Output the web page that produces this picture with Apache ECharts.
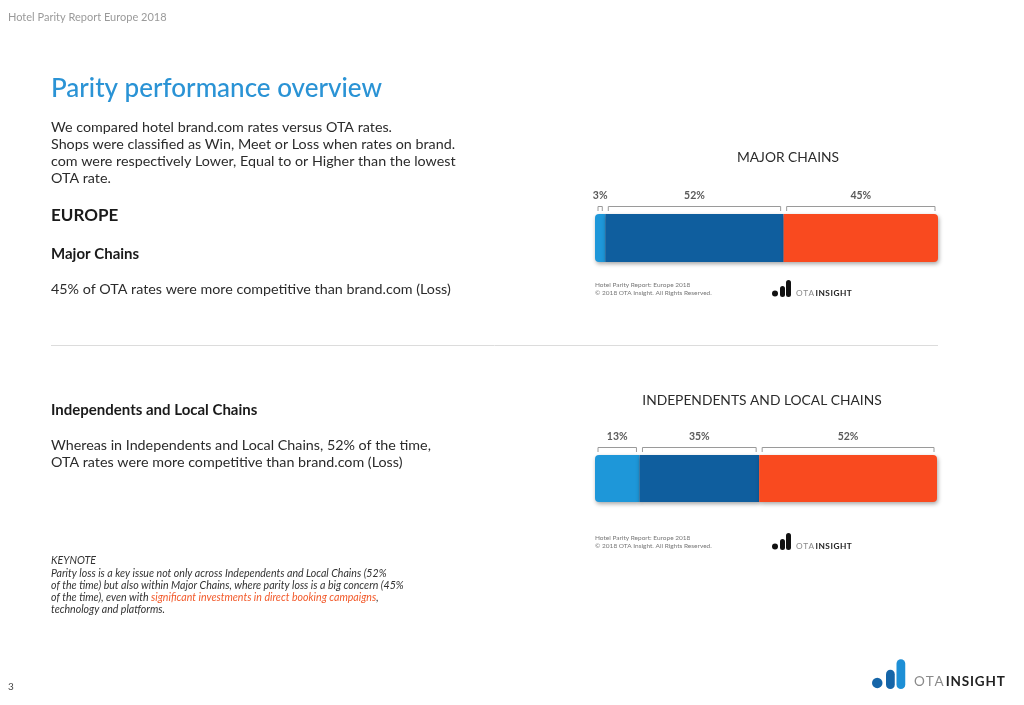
<!DOCTYPE html>
<html><head><meta charset="utf-8">
<script src="https://cdn.jsdelivr.net/npm/echarts@6/dist/echarts.min.js"></script>
<style>html,body{margin:0;padding:0;background:#fff}#c{width:1024px;height:705px}</style>
</head><body><div id="c"></div>
<script>
const chartTitles = ['MAJOR CHAINS', 'INDEPENDENTS AND LOCAL CHAINS'];
const segments = ['Win', 'Meet', 'Loss'];
const majorChains = [3, 52, 45];
const independents = [13, 35, 52];
const segColors = ['#1E97D9', '#0F5E9E', '#F94A1F'];

const FONT = 'Lato, "Open Sans", sans-serif';
const datasets = [majorChains, independents];
const grids = [
  {left: 595, top: 214, width: 343, height: 48},
  {left: 595, top: 455, width: 342, height: 47}
];

const series = [];
datasets.forEach((vals, gi) => {
  vals.forEach((v, si) => {
    const radius = si === 0 ? [4,0,0,4] : (si === vals.length - 1 ? [0,4,4,0] : 0);
    series.push({
      type: 'bar', name: segments[si], stack: 'g' + gi,
      xAxisIndex: gi, yAxisIndex: gi, barWidth: '100%',
      data: [v], silent: true,
      itemStyle: {color: segColors[si], borderRadius: radius,
        shadowBlur: 4, shadowOffsetY: 2, shadowOffsetX: 1, shadowColor: 'rgba(0,0,0,0.35)'}
    });
  });
  let acc = 0;
  const br = vals.map(v => { const s = acc; acc += v; return [s, acc, v, 0]; });
  series.push({
    type: 'custom', xAxisIndex: gi, yAxisIndex: gi, silent: true, z: 10,
    encode: {x: [0, 1], y: 3},
    data: br,
    renderItem: function (params, api) {
      const p0 = api.coord([api.value(0), 0]);
      const p1 = api.coord([api.value(1), 0]);
      const h = api.size([0, 1])[1];
      const top = p0[1] - h / 2;
      const x0 = p0[0] + 3, x1 = p1[0] - 3;
      return {type: 'group', children: [
        {type: 'polyline', shape: {points: [[x0, top - 3], [x0, top - 7.5], [x1, top - 7.5], [x1, top - 3]]},
          style: {stroke: '#9a9a9a', lineWidth: 1, fill: null}},
        {type: 'text', x: (p0[0] + p1[0]) / 2, y: top - 18,
          style: {text: api.value(2) + '%', fill: '#5a5a5a', font: 'bold 10.5px ' + FONT, align: 'center', verticalAlign: 'middle'}}
      ]};
    }
  });
});

function txt(x, y, text, size, color, weight, extra) {
  return Object.assign({type: 'text', x: x, y: y, silent: true,
    style: {text: text, fill: color, font: (weight || 'normal') + ' ' + size + 'px ' + FONT, verticalAlign: 'middle'}}, extra || {});
}
function spaced(s) { return s.split('').join('\u200A'); }
function logo(x, y, s, big, fs) {
  const c1 = big ? '#1565a8' : '#111', c2 = big ? '#1d8fd6' : '#111';
  return [
    {type: 'circle', silent: true, shape: {cx: x + 3 * s, cy: y - 3.5 * s, r: 3 * s}, style: {fill: c1}},
    {type: 'rect', silent: true, shape: {x: x + 8 * s, y: y - 11 * s, width: 5 * s, height: 11 * s, r: 2.5 * s}, style: {fill: c1}},
    {type: 'rect', silent: true, shape: {x: x + 14 * s, y: y - 17 * s, width: 5 * s, height: 17 * s, r: 2.5 * s}, style: {fill: c2}},
    {type: 'text', silent: true, x: x + 24 * s, y: y - 4 * s, style: {
      text: '{a|' + spaced('OTA') + '}{b|' + spaced('INSIGHT') + '}', verticalAlign: 'middle',
      rich: {a: {fill: '#8a8a8a', font: 'normal ' + fs + 'px ' + FONT, padding: [0, fs * 0.15, 0, 0]},
             b: {fill: '#222', font: 'bold ' + fs + 'px ' + FONT}}}}
  ];
}

const B = 14.3, K = 10.6;
const graphic = [
  txt(8, 17, 'Hotel Parity Report Europe 2018', 11, '#9a9a9a'),
  txt(51, 89, 'Parity performance overview', 26, '#2A93D5', '500'),
  txt(51, 127, 'We compared hotel brand.com rates versus OTA rates.', B, '#2b2b2b'),
  txt(51, 144, 'Shops were classified as Win, Meet or Loss when rates on brand.', B, '#2b2b2b'),
  txt(51, 161, 'com were respectively Lower, Equal to or Higher than the lowest', B, '#2b2b2b'),
  txt(51, 178, 'OTA rate.', B, '#2b2b2b'),
  txt(51, 216, 'EUROPE', 17, '#1a1a1a', 'bold'),
  txt(51, 254, 'Major Chains', 15, '#1a1a1a', 'bold'),
  txt(51, 289, '45% of OTA rates were more competitive than brand.com (Loss)', B, '#2b2b2b'),
  {type: 'line', silent: true, shape: {x1: 51, y1: 345.5, x2: 938, y2: 345.5}, style: {stroke: '#dcdcdc', lineWidth: 1}},
  txt(51, 410, 'Independents and Local Chains', 15, '#1a1a1a', 'bold'),
  txt(51, 445, 'Whereas in Independents and Local Chains, 52% of the time,', B, '#2b2b2b'),
  txt(51, 462, 'OTA rates were more competitive than brand.com (Loss)', B, '#2b2b2b'),
  txt(51, 561, 'KEYNOTE', K, '#333', 'italic'),
  txt(51, 574, 'Parity loss is a key issue not only across Independents and Local Chains (52%', K, '#333', 'italic'),
  txt(51, 586, 'of the time) but also within Major Chains, where parity loss is a big concern (45%', K, '#333', 'italic'),
  {type: 'text', x: 51, y: 598, silent: true, style: {text: '{n|of the time), even with }{o|significant investments in direct booking campaigns}{n|,}', verticalAlign: 'middle',
    rich: {n: {fill: '#333', font: 'italic ' + K + 'px ' + FONT}, o: {fill: '#F25A2B', font: 'italic ' + K + 'px ' + FONT}}}},
  txt(51, 610, 'technology and platforms.', K, '#333', 'italic'),
  txt(8, 687, '3', 10, '#444'),
  {type: 'text', silent: true, x: 788, y: 158, style: {text: chartTitles[0], fill: '#2b2b2b', font: 'normal 13.8px ' + FONT, align: 'center', verticalAlign: 'middle'}},
  {type: 'text', silent: true, x: 762, y: 401, style: {text: chartTitles[1], fill: '#2b2b2b', font: 'normal 13.8px ' + FONT, align: 'center', verticalAlign: 'middle'}},
  txt(595, 285, 'Hotel Parity Report: Europe 2018', 6.5, '#777'),
  txt(595, 293, '\u00A9 2018 OTA Insight. All Rights Reserved.', 6.5, '#777'),
  txt(595, 538, 'Hotel Parity Report: Europe 2018', 6.5, '#777'),
  txt(595, 546, '\u00A9 2018 OTA Insight. All Rights Reserved.', 6.5, '#777')
].concat(logo(772, 297, 1, false, 8.3), logo(772, 550, 1, false, 8.3), logo(872, 689, 1.75, true, 13.5));

const option = {
  animation: false,
  grid: grids.map(g => Object.assign({containLabel: false}, g)),
  xAxis: grids.map((g, i) => ({type: 'value', gridIndex: i, min: 0, max: 100, show: false})),
  yAxis: grids.map((g, i) => ({type: 'category', gridIndex: i, data: ['all'], show: false})),
  series: series,
  graphic: graphic
};
echarts.init(document.getElementById('c'), null, {renderer: 'canvas'}).setOption(option);
</script></body></html>
